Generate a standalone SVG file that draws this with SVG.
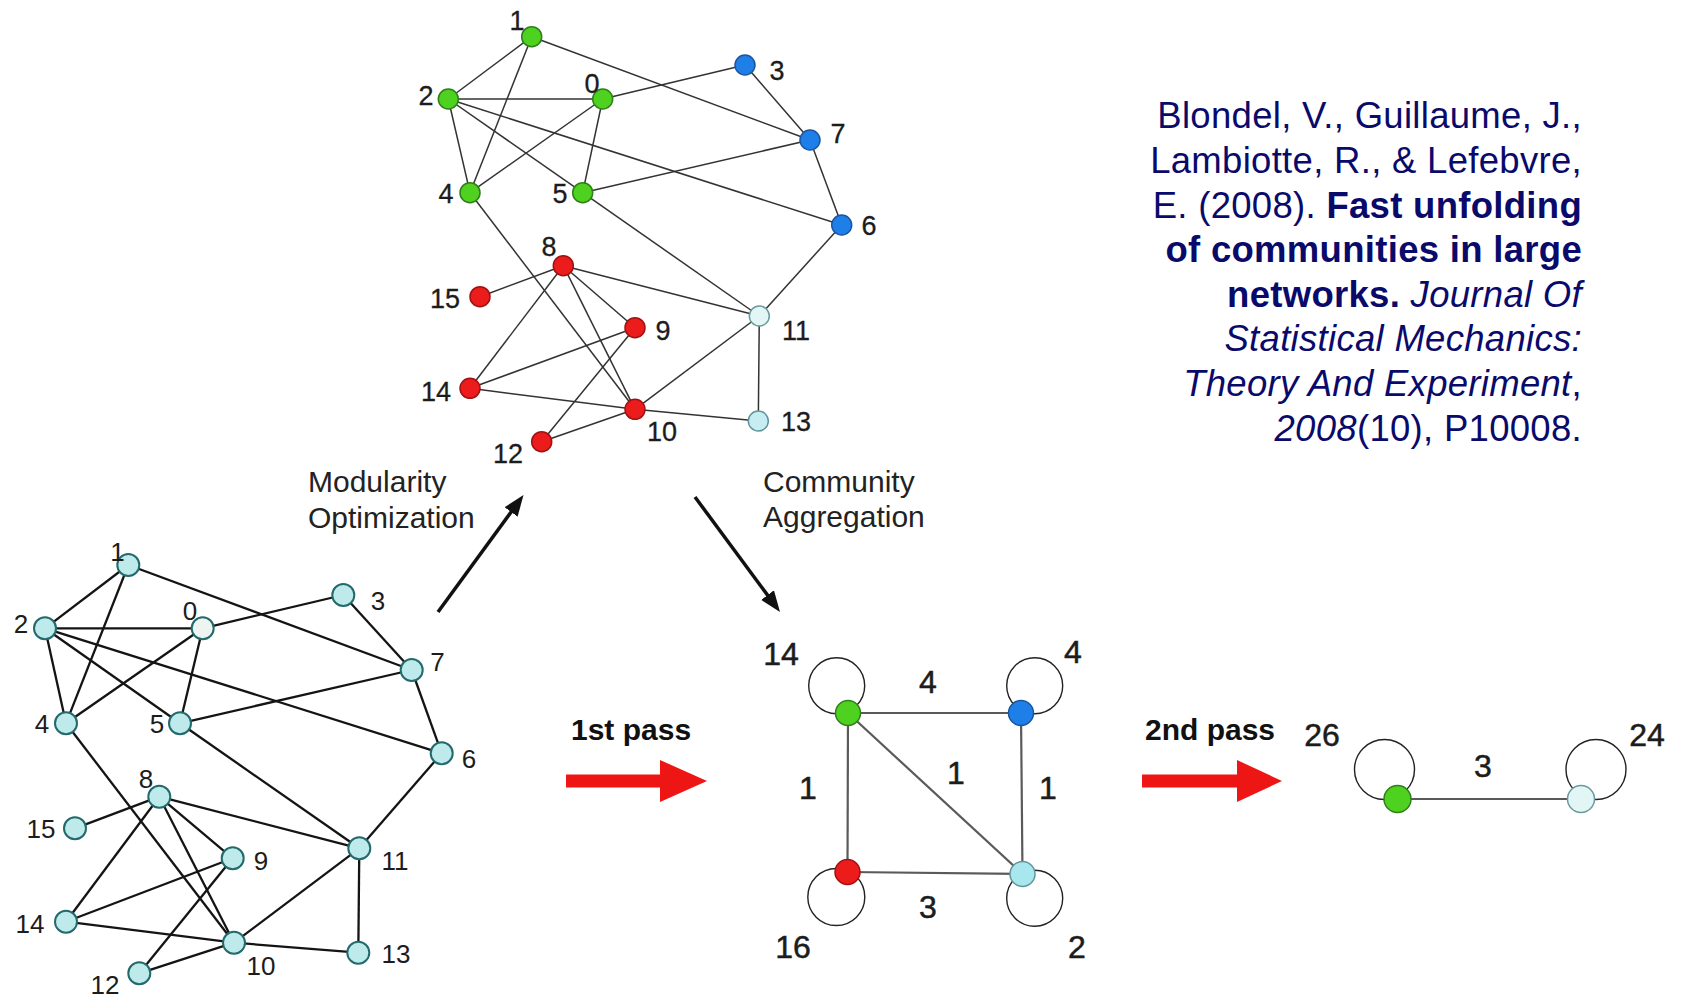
<svg xmlns="http://www.w3.org/2000/svg" width="1687" height="999" viewBox="0 0 1687 999">
<style>
.lbl{font-family:"Liberation Sans",Arial,sans-serif;fill:#1c1c1c;text-anchor:middle}
.t27{font-size:27px;stroke:#1c1c1c;stroke-width:0.3}
.t26{font-size:26px}
.t31{font-size:32px;stroke:#1c1c1c;stroke-width:0.5}
.cap{font-family:"Liberation Sans",Arial,sans-serif;font-size:30px;fill:#222}
.pass{font-family:"Liberation Sans",Arial,sans-serif;font-size:30px;font-weight:bold;fill:#111}
.cite{font-family:"Liberation Sans",Arial,sans-serif;font-size:36.5px;letter-spacing:0.3px;fill:#0a0a6b;text-anchor:end}
.b{font-weight:bold}
.i{font-style:italic}
.green{fill:#4fd11f;stroke:#2f7f1a;stroke-width:1.5}
.blue{fill:#1f7fe8;stroke:#1a56a0;stroke-width:1.5}
.red{fill:#ec1c1c;stroke:#a01212;stroke-width:1.5}
.lc{fill:#e2f6f6;stroke:#6a9aa0;stroke-width:1.5}
.lc2{fill:#c6eef2;stroke:#5f969c;stroke-width:1.5}
.cy{fill:#a9e7ef;stroke:#5f969c;stroke-width:1.5}
.bn{fill:#bfeaeb;stroke:#236a6c;stroke-width:2}
.bn0{fill:#eef4ef;stroke:#236a6c;stroke-width:2}
.et{stroke:#333;stroke-width:1.5;fill:none}
.eb{stroke:#141414;stroke-width:2.3;fill:none}
.ea{stroke:#5a5a5a;stroke-width:2.2;fill:none}
.loop{stroke:#222;stroke-width:1.4;fill:none}
.arr{stroke:#111;stroke-width:3.5;fill:none}
.redarr{fill:#ee1515}
</style>
<defs>
<marker id="head" markerUnits="userSpaceOnUse" markerWidth="22" markerHeight="18" viewBox="0 -9 22 18" refX="1" refY="0" orient="auto">
<path d="M0,-8 L21,0 L0,8 z" fill="#111"/>
</marker>
</defs>
<rect width="1687" height="999" fill="#fff"/>

<g id="connectors">
<g id="edges-top" class="et">
<line x1="602.7" y1="99" x2="448.3" y2="99"/>
<line x1="602.7" y1="99" x2="745" y2="65"/>
<line x1="602.7" y1="99" x2="470" y2="192.7"/>
<line x1="602.7" y1="99" x2="582.7" y2="192.7"/>
<line x1="531.7" y1="36.7" x2="448.3" y2="99"/>
<line x1="531.7" y1="36.7" x2="470" y2="192.7"/>
<line x1="531.7" y1="36.7" x2="810" y2="140"/>
<line x1="448.3" y1="99" x2="470" y2="192.7"/>
<line x1="448.3" y1="99" x2="582.7" y2="192.7"/>
<line x1="448.3" y1="99" x2="841.7" y2="225"/>
<line x1="745" y1="65" x2="810" y2="140"/>
<line x1="470" y1="192.7" x2="635" y2="409.3"/>
<line x1="582.7" y1="192.7" x2="810" y2="140"/>
<line x1="582.7" y1="192.7" x2="759.3" y2="316"/>
<line x1="841.7" y1="225" x2="810" y2="140"/>
<line x1="841.7" y1="225" x2="759.3" y2="316"/>
<line x1="563.3" y1="265.7" x2="635" y2="327.7"/>
<line x1="563.3" y1="265.7" x2="635" y2="409.3"/>
<line x1="563.3" y1="265.7" x2="759.3" y2="316"/>
<line x1="563.3" y1="265.7" x2="470" y2="388.3"/>
<line x1="563.3" y1="265.7" x2="480" y2="296.7"/>
<line x1="635" y1="327.7" x2="541.7" y2="441.7"/>
<line x1="635" y1="327.7" x2="470" y2="388.3"/>
<line x1="635" y1="409.3" x2="759.3" y2="316"/>
<line x1="635" y1="409.3" x2="541.7" y2="441.7"/>
<line x1="635" y1="409.3" x2="758.3" y2="421"/>
<line x1="635" y1="409.3" x2="470" y2="388.3"/>
<line x1="759.3" y1="316" x2="758.3" y2="421"/>
</g>
<g id="edges-bottom" class="eb">
<line x1="202.7" y1="628.3" x2="45" y2="628.3"/>
<line x1="202.7" y1="628.3" x2="343.3" y2="595"/>
<line x1="202.7" y1="628.3" x2="66" y2="723.3"/>
<line x1="202.7" y1="628.3" x2="180" y2="723.3"/>
<line x1="128.3" y1="565" x2="45" y2="628.3"/>
<line x1="128.3" y1="565" x2="66" y2="723.3"/>
<line x1="128.3" y1="565" x2="411.7" y2="670"/>
<line x1="45" y1="628.3" x2="66" y2="723.3"/>
<line x1="45" y1="628.3" x2="180" y2="723.3"/>
<line x1="45" y1="628.3" x2="441.7" y2="753.3"/>
<line x1="343.3" y1="595" x2="411.7" y2="670"/>
<line x1="66" y1="723.3" x2="234" y2="942.7"/>
<line x1="180" y1="723.3" x2="411.7" y2="670"/>
<line x1="180" y1="723.3" x2="359.3" y2="848.3"/>
<line x1="441.7" y1="753.3" x2="411.7" y2="670"/>
<line x1="441.7" y1="753.3" x2="359.3" y2="848.3"/>
<line x1="159.3" y1="796.7" x2="232.7" y2="858.3"/>
<line x1="159.3" y1="796.7" x2="234" y2="942.7"/>
<line x1="159.3" y1="796.7" x2="359.3" y2="848.3"/>
<line x1="159.3" y1="796.7" x2="66" y2="921.7"/>
<line x1="159.3" y1="796.7" x2="75" y2="828.3"/>
<line x1="232.7" y1="858.3" x2="139.3" y2="973.3"/>
<line x1="232.7" y1="858.3" x2="66" y2="921.7"/>
<line x1="234" y1="942.7" x2="359.3" y2="848.3"/>
<line x1="234" y1="942.7" x2="139.3" y2="973.3"/>
<line x1="234" y1="942.7" x2="358.3" y2="952.7"/>
<line x1="234" y1="942.7" x2="66" y2="921.7"/>
<line x1="359.3" y1="848.3" x2="358.3" y2="952.7"/>
</g>
<g id="edges-aggregated">
<circle class="loop" cx="836.7" cy="685.7" r="28"/>
<circle class="loop" cx="1034.7" cy="685.7" r="28"/>
<circle class="loop" cx="836.3" cy="897" r="28.5"/>
<circle class="loop" cx="1034.7" cy="898.3" r="28"/>
<g class="ea">
<line x1="848" y1="713" x2="1021" y2="713"/>
<line x1="848" y1="713" x2="847.5" y2="872"/>
<line x1="848" y1="713" x2="1022.5" y2="874"/>
<line x1="1021" y1="713" x2="1022.5" y2="874"/>
<line x1="847.5" y1="872" x2="1022.5" y2="874"/>
</g>
<text class="lbl t31" x="928" y="693">4</text>
<text class="lbl t31" x="808" y="799">1</text>
<text class="lbl t31" x="956" y="784">1</text>
<text class="lbl t31" x="1048" y="799">1</text>
<text class="lbl t31" x="928" y="918">3</text>
</g>
<g id="edges-final">
<circle class="loop" cx="1384.5" cy="769.5" r="30"/>
<circle class="loop" cx="1596" cy="769.5" r="30"/>
<line class="ea" x1="1397.5" y1="799" x2="1581" y2="799"/>
<text class="lbl t31" x="1483" y="777">3</text>
</g>
<g id="process-arrows">
<line class="arr" x1="438" y1="612" x2="511.7" y2="511.2" marker-end="url(#head)"/>
<line class="arr" x1="695" y1="497" x2="768.1" y2="595.9" marker-end="url(#head)"/>
<polygon class="redarr" points="566,774.5 660,774.5 660,760 707,781 660,802 660,787.5 566,787.5"/>
<polygon class="redarr" points="1142,774.5 1237,774.5 1237,760 1282,781 1237,802 1237,787.5 1142,787.5"/>
</g>
</g>

<g id="top-graph">
<g id="t0"><circle class="green" cx="602.7" cy="99" r="10"/><text class="lbl t27" x="592" y="93">0</text></g>
<g id="t1"><circle class="green" cx="531.7" cy="36.7" r="10"/><text class="lbl t27" x="517" y="30">1</text></g>
<g id="t2"><circle class="green" cx="448.3" cy="99" r="10"/><text class="lbl t27" x="426" y="105">2</text></g>
<g id="t3"><circle class="blue" cx="745" cy="65" r="10"/><text class="lbl t27" x="777" y="80">3</text></g>
<g id="t4"><circle class="green" cx="470" cy="192.7" r="10"/><text class="lbl t27" x="446" y="203">4</text></g>
<g id="t5"><circle class="green" cx="582.7" cy="192.7" r="10"/><text class="lbl t27" x="560" y="203">5</text></g>
<g id="t6"><circle class="blue" cx="841.7" cy="225" r="10"/><text class="lbl t27" x="869" y="235">6</text></g>
<g id="t7"><circle class="blue" cx="810" cy="140" r="10"/><text class="lbl t27" x="838" y="143">7</text></g>
<g id="t8"><circle class="red" cx="563.3" cy="265.7" r="10"/><text class="lbl t27" x="549" y="256">8</text></g>
<g id="t9"><circle class="red" cx="635" cy="327.7" r="10"/><text class="lbl t27" x="663" y="340">9</text></g>
<g id="t10"><circle class="red" cx="635" cy="409.3" r="10"/><text class="lbl t27" x="662" y="441">10</text></g>
<g id="t11"><circle class="lc" cx="759.3" cy="316" r="10"/><text class="lbl t27" x="796" y="340">11</text></g>
<g id="t12"><circle class="red" cx="541.7" cy="441.7" r="10"/><text class="lbl t27" x="508" y="463">12</text></g>
<g id="t13"><circle class="lc2" cx="758.3" cy="421" r="10"/><text class="lbl t27" x="796" y="431">13</text></g>
<g id="t14"><circle class="red" cx="470" cy="388.3" r="10"/><text class="lbl t27" x="436" y="401">14</text></g>
<g id="t15"><circle class="red" cx="480" cy="296.7" r="10"/><text class="lbl t27" x="445" y="308">15</text></g>
</g>

<g id="bottom-graph">
<g id="b0"><circle class="bn0" cx="202.7" cy="628.3" r="11"/><text class="lbl t26" x="190" y="620">0</text></g>
<g id="b1"><circle class="bn" cx="128.3" cy="565" r="11"/><text class="lbl t26" x="117.5" y="561">1</text></g>
<g id="b2"><circle class="bn" cx="45" cy="628.3" r="11"/><text class="lbl t26" x="21" y="633">2</text></g>
<g id="b3"><circle class="bn" cx="343.3" cy="595" r="11"/><text class="lbl t26" x="378" y="610">3</text></g>
<g id="b4"><circle class="bn" cx="66" cy="723.3" r="11"/><text class="lbl t26" x="42" y="733">4</text></g>
<g id="b5"><circle class="bn" cx="180" cy="723.3" r="11"/><text class="lbl t26" x="157" y="733">5</text></g>
<g id="b6"><circle class="bn" cx="441.7" cy="753.3" r="11"/><text class="lbl t26" x="469" y="768">6</text></g>
<g id="b7"><circle class="bn" cx="411.7" cy="670" r="11"/><text class="lbl t26" x="437.5" y="671">7</text></g>
<g id="b8"><circle class="bn" cx="159.3" cy="796.7" r="11"/><text class="lbl t26" x="146" y="788">8</text></g>
<g id="b9"><circle class="bn" cx="232.7" cy="858.3" r="11"/><text class="lbl t26" x="261" y="870">9</text></g>
<g id="b10"><circle class="bn" cx="234" cy="942.7" r="11"/><text class="lbl t26" x="261" y="975">10</text></g>
<g id="b11"><circle class="bn" cx="359.3" cy="848.3" r="11"/><text class="lbl t26" x="395" y="870">11</text></g>
<g id="b12"><circle class="bn" cx="139.3" cy="973.3" r="11"/><text class="lbl t26" x="105" y="994">12</text></g>
<g id="b13"><circle class="bn" cx="358.3" cy="952.7" r="11"/><text class="lbl t26" x="396" y="963">13</text></g>
<g id="b14"><circle class="bn" cx="66" cy="921.7" r="11"/><text class="lbl t26" x="30" y="933">14</text></g>
<g id="b15"><circle class="bn" cx="75" cy="828.3" r="11"/><text class="lbl t26" x="41" y="838">15</text></g>
</g>

<g id="aggregated-graph">
<g id="a-green"><circle class="green" cx="848" cy="713" r="12.5"/><text class="lbl t31" x="781" y="665">14</text></g>
<g id="a-blue"><circle class="blue" cx="1021" cy="713" r="12.5"/><text class="lbl t31" x="1073" y="663">4</text></g>
<g id="a-red"><circle class="red" cx="847.5" cy="872" r="12.5"/><text class="lbl t31" x="793" y="958">16</text></g>
<g id="a-cyan"><circle class="cy" cx="1022.5" cy="874" r="12.5"/><text class="lbl t31" x="1077" y="958">2</text></g>
</g>

<g id="final-graph">
<g id="f-green"><circle class="green" cx="1397.5" cy="799" r="13.5"/><text class="lbl t31" x="1322" y="746">26</text></g>
<g id="f-cyan"><circle class="lc" cx="1581" cy="799" r="13.5"/><text class="lbl t31" x="1647" y="746">24</text></g>
</g>

<g id="captions">
<text class="cap" x="308" y="492">Modularity</text>
<text class="cap" x="308" y="528">Optimization</text>
<text class="cap" x="763" y="492">Community</text>
<text class="cap" x="763" y="527">Aggregation</text>
<text class="pass" x="571" y="740">1st pass</text>
<text class="pass" x="1145" y="740">2nd pass</text>
</g>

<g id="citation">
<text class="cite" x="1582" y="128">Blondel, V., Guillaume, J.,</text>
<text class="cite" x="1582" y="173">Lambiotte, R., &amp; Lefebvre,</text>
<text class="cite" x="1582" y="218">E. (2008). <tspan class="b">Fast unfolding</tspan></text>
<text class="cite b" x="1582" y="262">of communities in large</text>
<text class="cite" x="1582" y="307"><tspan class="b">networks.</tspan> <tspan class="i">Journal Of</tspan></text>
<text class="cite i" x="1582" y="351">Statistical Mechanics:</text>
<text class="cite" x="1582" y="396"><tspan class="i">Theory And Experiment</tspan>,</text>
<text class="cite" x="1582" y="441"><tspan class="i">2008</tspan>(10), P10008.</text>
</g>
</svg>
